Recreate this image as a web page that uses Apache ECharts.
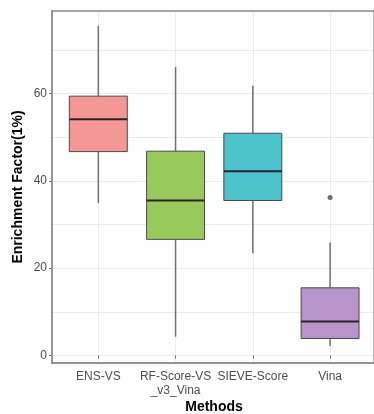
<!DOCTYPE html>
<html>
<head>
<meta charset="utf-8">
<script src="https://cdn.jsdelivr.net/npm/echarts@6/dist/echarts.min.js"></script>
<style>
html,body{margin:0;padding:0;background:#fff;}
#chart{width:374px;height:414px;}
</style>
</head>
<body>
<div id="chart"></div>
<script>
// ---- data ----
const categories = ['ENS-VS', 'RF-Score-VS\n_v3_Vina', 'SIEVE-Score', 'Vina'];
const whiskerLow  = [34.9, 4.3, 23.4, 2.2];
const q1          = [46.7, 26.6, 35.5, 3.9];
const median      = [54.1, 35.5, 42.2, 7.8];
const q3          = [59.4, 46.8, 50.9, 15.5];
const whiskerHigh = [75.5, 66.1, 61.8, 25.9];
const outlierCats = [3];
const outlierVals = [36.2];
const yTickMax = 60;
const yTickStep = 20;
const gridStep = 10;
const yMax = 78.9;

// ---- styles ----
const fillColors = ['#F59794', '#97C95B', '#4DC3CD', '#B894CA'];
const font = "'Liberation Sans', Arial, sans-serif";

const boxData = categories.map((c, i) => [i, whiskerLow[i], q1[i], median[i], q3[i], whiskerHigh[i]]);
const outlierData = outlierCats.map((c, i) => [c, outlierVals[i]]);

const chart = echarts.init(document.getElementById('chart'), null, {renderer: 'canvas'});
const hidden = {axisLine:{show:false}, axisTick:{show:false}, axisLabel:{show:false}, splitLine:{show:false}};

const option = {
  animation: false,
  backgroundColor: '#fff',
  title: {
    text: 'Methods', left: 214, top: 400, textAlign: 'center', padding: 0,
    textStyle: {fontFamily: font, fontSize: 14, fontWeight: 'bold', color: '#000'}
  },
  grid: [
    {left: 52, top: 11, width: 324, height: 352, show: true, borderColor: '#8c8c8c', borderWidth: 1.3, backgroundColor: 'transparent', z: 5},
    {left: 52, top: 11, width: 324, height: 344.5},
    {left: 98.3, top: 11, width: 231.7, height: 352},
    {left: 59.7, top: 11, width: 309, height: 344.5},
    {left: 52, top: 93.5, width: 324, height: 262}
  ],
  xAxis: [
    Object.assign({gridIndex: 0, type: 'value', min: 0, max: 1}, hidden,
      {axisLine: {show: true, lineStyle: {color: '#8c8c8c', width: 1.5}}, z: 6}),
    Object.assign({gridIndex: 1, type: 'value', min: 0, max: 1}, hidden),
    Object.assign({gridIndex: 2, type: 'value', min: 1, max: 4, interval: 1}, hidden,
      {splitLine: {show: true, lineStyle: {color: '#ebebeb', width: 1}}}),
    {gridIndex: 3, type: 'category', data: categories, offset: 7.5,
      axisLine: {show: false},
      axisTick: {show: true, alignWithLabel: true, length: 3, lineStyle: {color: '#6a6a6a', width: 1}},
      axisLabel: {interval: 0, margin: 6, fontFamily: font, fontSize: 12, color: '#4d4d4d', lineHeight: 14.5},
      splitLine: {show: false}},
    Object.assign({gridIndex: 4, type: 'value', min: 0, max: 1}, hidden)
  ],
  yAxis: [
    Object.assign({gridIndex: 0, type: 'value', min: 0, max: 1, name: 'Enrichment Factor(1%)', nameLocation: 'middle', nameGap: 27,
      nameTextStyle: {fontFamily: font, fontSize: 14, fontWeight: 'bold', color: '#000'}}, hidden,
      {axisLine: {show: true, lineStyle: {color: '#8c8c8c', width: 1.5}}, z: 6}),
    Object.assign({gridIndex: 1, type: 'value', min: 0, max: yMax, interval: gridStep}, hidden,
      {splitLine: {show: true, lineStyle: {color: '#ebebeb', width: 1}}}),
    Object.assign({gridIndex: 2, type: 'value', min: 0, max: 1}, hidden),
    Object.assign({gridIndex: 3, type: 'value', min: 0, max: yMax}, hidden),
    {gridIndex: 4, type: 'value', min: 0, max: yTickMax, interval: yTickStep,
      axisLine: {show: false},
      axisTick: {show: true, length: 3, lineStyle: {color: '#6a6a6a', width: 1}},
      axisLabel: {margin: 5, fontFamily: font, fontSize: 12, color: '#4d4d4d'},
      splitLine: {show: false}}
  ],
  series: [
    {
      type: 'custom',
      xAxisIndex: 3, yAxisIndex: 3,
      data: boxData,
      encode: {x: 0, y: [1, 2, 3, 4, 5]},
      z: 3,
      renderItem: function (params, api) {
        const i = api.value(0);
        const pLo = api.coord([i, api.value(1)]);
        const pA = api.coord([i, api.value(2)]);
        const pM = api.coord([i, api.value(3)]);
        const pB = api.coord([i, api.value(4)]);
        const pHi = api.coord([i, api.value(5)]);
        const x = pM[0];
        const bw = api.size([1, 0])[0] * 0.75;
        const wStyle = {stroke: '#707070', lineWidth: 1.5};
        return {type: 'group', children: [
          {type: 'line', shape: {x1: x, y1: pHi[1], x2: x, y2: pB[1]}, style: wStyle},
          {type: 'line', shape: {x1: x, y1: pA[1], x2: x, y2: pLo[1]}, style: wStyle},
          {type: 'rect', shape: {x: x - bw / 2, y: pB[1], width: bw, height: pA[1] - pB[1]},
            style: {fill: fillColors[params.dataIndex], stroke: '#4a4a4a', lineWidth: 1}},
          {type: 'line', shape: {x1: x - bw / 2, y1: pM[1], x2: x + bw / 2, y2: pM[1]},
            style: {stroke: '#262626', lineWidth: 2}}
        ]};
      }
    },
    {
      type: 'scatter',
      xAxisIndex: 3, yAxisIndex: 3,
      data: outlierData,
      symbolSize: 5,
      itemStyle: {color: '#4a4a4a'},
      z: 4
    }
  ]
};
chart.setOption(option);
</script>
</body>
</html>
